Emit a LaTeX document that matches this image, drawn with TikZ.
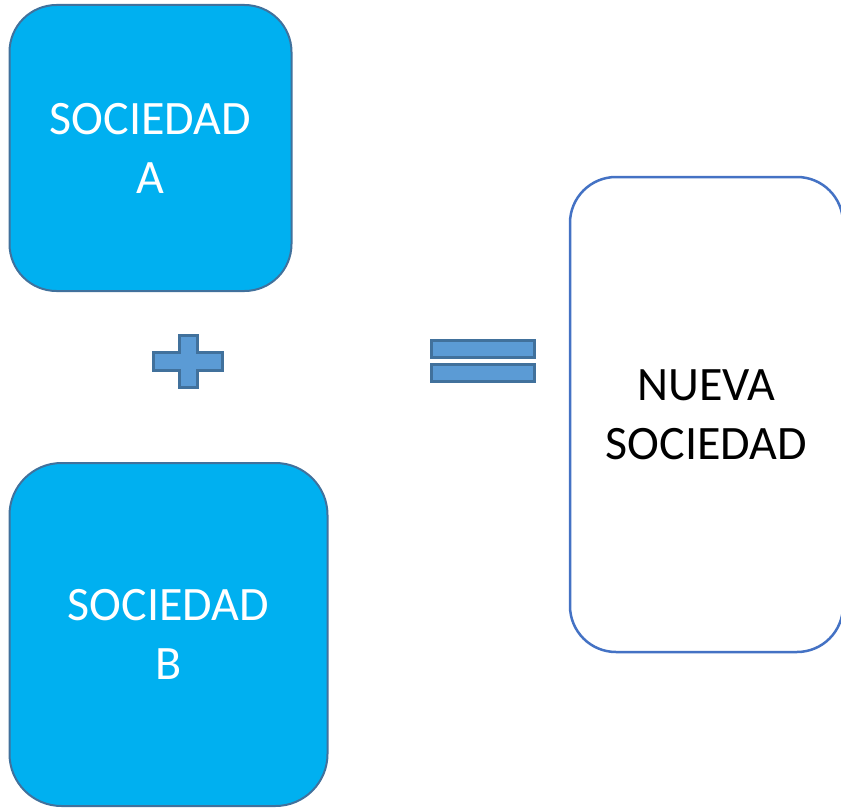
\documentclass[tikz,border=0pt]{standalone}
\usepackage{fontspec}
\setmainfont{Carlito}
\definecolor{cyanfill}{HTML}{00B0F0}
\definecolor{darkedge}{HTML}{41719C}
\definecolor{midblue}{HTML}{5B9BD5}
\definecolor{lineblue}{HTML}{4472C4}
\tikzset{
  socbox/.style={draw=darkedge, fill=cyanfill, line width=2pt, text=white,
    align=center, font=\fontsize{48}{59}\selectfont, inner sep=0pt},
  newbox/.style={draw=lineblue, fill=white, line width=2.5pt, text=black,
    align=center, font=\fontsize{48}{59}\selectfont, inner sep=0pt},
  symbol/.style={draw=darkedge, fill=midblue, line width=3pt}
}
\begin{document}
\begin{tikzpicture}[x=1pt,y=-1pt]
\useasboundingbox (0,0) rectangle (841,808);
\node[socbox, minimum width=282pt, minimum height=286pt, rounded corners=47pt]
  (a) at (150.5,148) {SOCIEDAD\\A};
\node[socbox, minimum width=318pt, minimum height=343pt, rounded corners=52pt]
  (b) at (168.5,634.5) {SOCIEDAD\\B};
\node[newbox, minimum width=273pt, minimum height=475pt, rounded corners=46pt]
  (c) at (706.5,414.5) {NUEVA\\SOCIEDAD};
% plus sign
\draw[symbol] (179,335) -- (197,335) -- (197,352) -- (222,352) -- (222,370)
  -- (197,370) -- (197,387) -- (179,387) -- (179,370) -- (153,370)
  -- (153,352) -- (179,352) -- cycle;
% equals sign
\draw[symbol] (431,340) rectangle (534,357);
\draw[symbol] (431,364) rectangle (534,381);
\end{tikzpicture}
\end{document}
